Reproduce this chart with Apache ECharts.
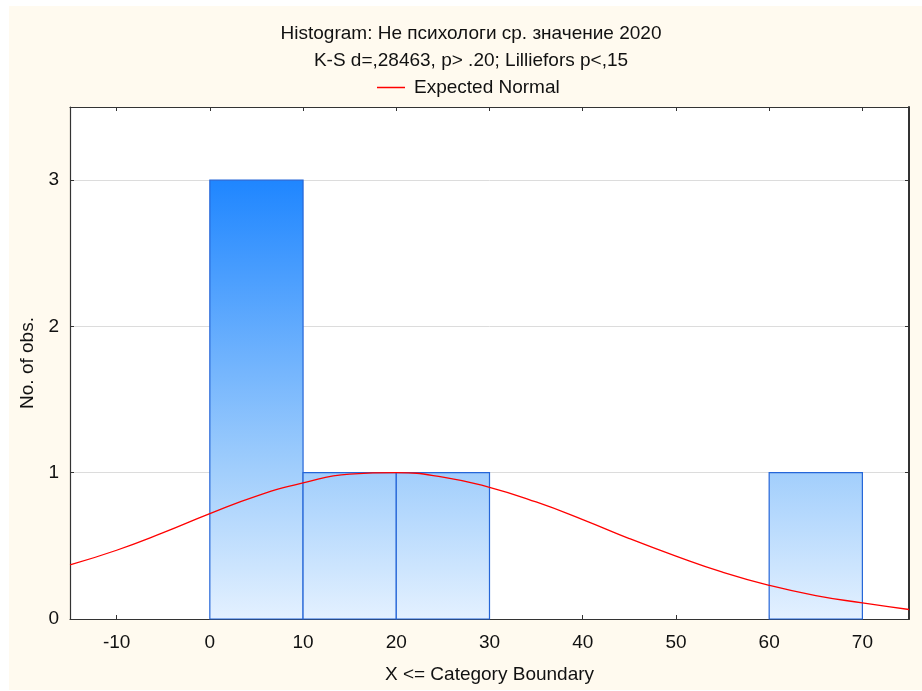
<!DOCTYPE html>
<html>
<head>
<meta charset="utf-8">
<script src="https://cdn.jsdelivr.net/npm/echarts@6/dist/echarts.min.js"></script>
<style>
html,body{margin:0;padding:0;background:#ffffff;}
#chart{width:922px;height:691px;}
</style>
</head>
<body>
<div id="chart"></div>
<script>
// Histogram bins (upper boundaries), counts
const binStart = [0, 10, 20, 60];
const binEnd = [10, 20, 30, 70];
const counts = [3, 1, 1, 1];
// Expected normal curve
const normX = [-15, -10, -5, 0, 5, 10, 15, 20, 25, 30, 35, 40, 45, 50, 55, 60, 65, 70, 75];
const normY = [0.37, 0.47, 0.59, 0.72, 0.84, 0.93, 0.99, 1.0, 0.97, 0.9, 0.8, 0.68, 0.55, 0.43, 0.32, 0.23, 0.16, 0.11, 0.065];
// Tick labels
const xTicks = [-10, 0, 10, 20, 30, 40, 50, 60, 70];
const yTicks = [0, 1, 2, 3];

const titleText = 'Histogram: Не психологи ср. значение 2020';
const subText = 'K-S d=,28463, p> .20; Lilliefors p<,15';
const legendName = 'Expected Normal';
const xName = 'X <= Category Boundary';
const yName = 'No. of obs.';

const FONT = '"Liberation Sans", Arial, sans-serif';
const FS = 19;
const chart = echarts.init(document.getElementById('chart'), null, {renderer: 'canvas'});

const barData = binStart.map((s, i) => [s, binEnd[i], counts[i]]);
const lineData = normX.map((x, i) => [x, normY[i]]);

const gradient = new echarts.graphic.LinearGradient(0, 180, 0, 620, [
  {offset: 0, color: '#1f86ff'},
  {offset: 0.65, color: '#9fcdfc'},
  {offset: 1, color: '#e4f1ff'}
], true);

const axisLineStyle = {color: '#333333', width: 1.2};

chart.setOption({
  animation: false,
  backgroundColor: '#ffffff',
  graphic: [{
    type: 'rect', z: -10, silent: true,
    shape: {x: 9, y: 6, width: 913, height: 684},
    style: {fill: '#fffaef'}
  }],
  title: [
    {text: titleText, left: 466, top: 19, textAlign: 'center',
     textStyle: {fontFamily: FONT, fontSize: FS, fontWeight: 'normal', color: '#111'}},
    {text: subText, left: 466, top: 46, textAlign: 'center',
     textStyle: {fontFamily: FONT, fontSize: FS, fontWeight: 'normal', color: '#111'}}
  ],
  legend: {
    data: [{name: legendName, icon: 'rect'}],
    left: 372, top: 73,
    itemWidth: 28, itemHeight: 1.5, itemGap: 10,
    textStyle: {fontFamily: FONT, fontSize: FS, color: '#111', padding: [0, 0, 0, 4]}
  },
  grid: {
    left: 70, right: 13, top: 107, bottom: 72,
    show: true, backgroundColor: '#ffffff', borderWidth: 0
  },
  xAxis: [{
    type: 'value', min: -15, max: 75, position: 'bottom',
    name: xName, nameLocation: 'middle', nameGap: 46,
    nameTextStyle: {fontFamily: FONT, fontSize: FS, color: '#111'},
    axisLine: {show: true, onZero: false, lineStyle: axisLineStyle},
    axisTick: {show: true, inside: true, length: 4, customValues: xTicks, lineStyle: {color: '#333'}},
    axisLabel: {customValues: xTicks, fontFamily: FONT, fontSize: FS, color: '#111', margin: 14},
    splitLine: {show: false}
  }, {
    type: 'value', min: -15, max: 75, position: 'top',
    axisLine: {show: true, onZero: false, lineStyle: axisLineStyle},
    axisTick: {show: true, inside: true, length: 4, customValues: xTicks, lineStyle: {color: '#333'}},
    axisLabel: {show: false},
    splitLine: {show: false}
  }],
  yAxis: [{
    type: 'value', min: 0, max: 3.5, interval: 1, position: 'left',
    name: yName, nameLocation: 'middle', nameGap: 33, nameRotate: 90,
    nameTextStyle: {fontFamily: FONT, fontSize: FS, color: '#111'},
    axisLine: {show: true, onZero: false, lineStyle: axisLineStyle},
    axisTick: {show: true, inside: true, length: 4, customValues: yTicks, lineStyle: {color: '#333'}},
    axisLabel: {customValues: yTicks, fontFamily: FONT, fontSize: FS, color: '#111', margin: 11},
    splitLine: {show: true, lineStyle: {color: '#dcdcdc', width: 1}}
  }, {
    type: 'value', min: 0, max: 3.5, position: 'right',
    axisLine: {show: true, onZero: false, lineStyle: {color: '#333', width: 2}},
    axisTick: {show: true, inside: true, length: 4, customValues: yTicks, lineStyle: {color: '#333'}},
    axisLabel: {show: false},
    splitLine: {show: false}
  }],
  series: [{
    type: 'custom', name: 'hist', z: 2,
    data: barData,
    encode: {x: [0, 1], y: 2},
    renderItem: function (params, api) {
      const p0 = api.coord([api.value(0), api.value(2)]);
      const p1 = api.coord([api.value(1), 0]);
      return {
        type: 'rect',
        shape: {x: p0[0], y: p0[1], width: p1[0] - p0[0], height: p1[1] - p0[1]},
        style: {fill: gradient, stroke: '#2566d8', lineWidth: 1.2}
      };
    }
  }, {
    type: 'line', name: legendName, z: 3,
    data: lineData, smooth: true, showSymbol: false,
    lineStyle: {color: '#ff0000', width: 1.3},
    itemStyle: {color: '#ff0000'}
  }]
});
</script>
</body>
</html>
